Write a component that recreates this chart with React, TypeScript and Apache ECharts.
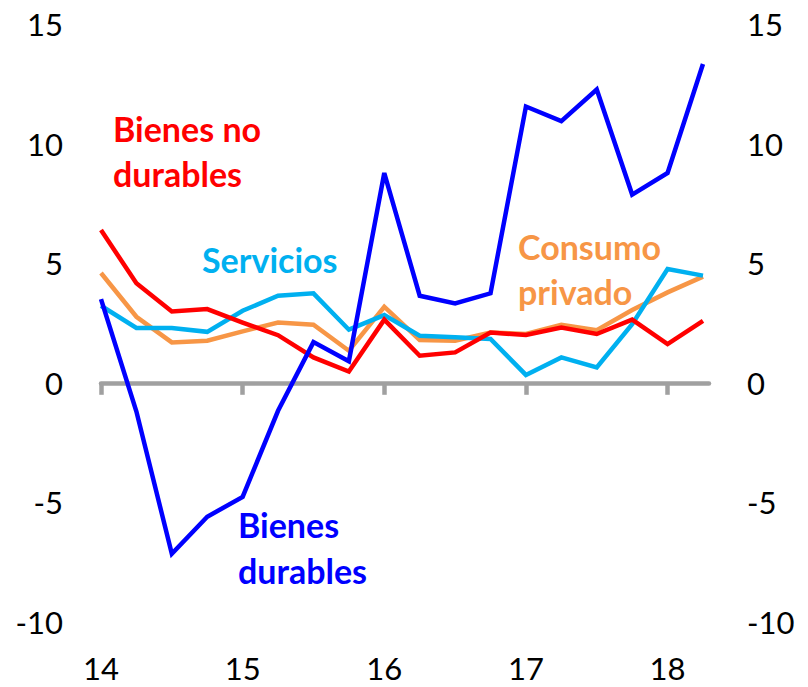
import React, { useEffect, useRef } from "react";
import * as echarts from "echarts";

const quarters = ["14T1","14T2","14T3","14T4","15T1","15T2","15T3","15T4","16T1","16T2","16T3","16T4","17T1","17T2","17T3","17T4","18T1","18T2"];
const yearLabels = ["14", "15", "16", "17", "18"];
const yearTickIdx = [0, 4, 8, 12, 16];

const bienesDurables = [3.5, -1.2, -7.15, -5.6, -4.77, -1.17, 1.7, 0.9, 8.77, 3.64, 3.32, 3.74, 11.55, 10.94, 12.26, 7.87, 8.77, 13.33];
const bienesNoDurables = [6.39, 4.16, 2.98, 3.08, 2.52, 1.99, 1.06, 0.47, 2.64, 1.13, 1.27, 2.1, 2.0, 2.31, 2.04, 2.64, 1.62, 2.59];
const servicios = [3.22, 2.29, 2.29, 2.13, 3.01, 3.64, 3.74, 2.22, 2.83, 1.97, 1.9, 1.83, 0.33, 1.06, 0.64, 2.45, 4.76, 4.48];
const consumoPrivado = [4.59, 2.76, 1.69, 1.76, 2.15, 2.52, 2.43, 1.34, 3.18, 1.79, 1.76, 2.1, 2.04, 2.43, 2.2, 3.04, 3.78, 4.44];

const FONT = "Lato";

export default function App() {
  const ref = useRef<HTMLDivElement>(null);
  useEffect(() => {
    if (!ref.current) return;
    const chart = echarts.init(ref.current, null, { renderer: "svg" });
    const toPairs = (arr: number[]) => arr.map((v, i) => [i, v]);
    const mk = (name: string, data: number[], color: string, z: number) => ({
      name,
      type: "line",
      data: toPairs(data),
      xAxisIndex: 0,
      yAxisIndex: 0,
      showSymbol: false,
      symbol: "none",
      z,
      lineStyle: { color, width: 4.5, join: "miter" },
    });
    const xMax = quarters.length - 1 + 0.17;
    const yAxisBase = {
      type: "value",
      min: -10,
      max: 15,
      interval: 5,
      axisLine: { show: false },
      axisTick: { show: false },
      splitLine: { show: false },
      axisLabel: { color: "#000", fontSize: 31, fontFamily: FONT, margin: 38 },
    };
    const boldText = (text: string, x: number, y: number, fill: string) => ({
      type: "text",
      x,
      y,
      style: {
        text,
        fill,
        font: `bold 34px ${FONT}`,
        textAlign: "left",
        textVerticalAlign: "middle",
      },
    });
    chart.setOption({
      animation: false,
      grid: { left: 101, right: 99, top: 24, bottom: 65 },
      xAxis: [
        {
          type: "value",
          min: 0,
          max: xMax,
          axisLine: { show: true, onZero: true, lineStyle: { color: "#a0a0a0", width: 4.5 } },
          axisTick: {
            show: true,
            length: 12,
            customValues: yearTickIdx,
            lineStyle: { color: "#a0a0a0", width: 4.5 },
          },
          axisLabel: { show: false },
          splitLine: { show: false },
        },
        {
          type: "value",
          min: 0,
          max: xMax,
          position: "bottom",
          axisLine: { show: false, onZero: false },
          axisTick: { show: false },
          splitLine: { show: false },
          axisLabel: {
            show: true,
            customValues: yearTickIdx,
            formatter: (v: number) => {
              const k = yearTickIdx.indexOf(Math.round(v));
              return k >= 0 ? yearLabels[k] : "";
            },
            color: "#000",
            fontSize: 31,
            fontFamily: FONT,
            margin: 30,
          },
        },
      ],
      yAxis: [
        { ...yAxisBase, position: "left" },
        { ...yAxisBase, position: "right" },
      ],
      series: [
        mk("Consumo privado", consumoPrivado, "#F79646", 2),
        mk("Servicios", servicios, "#00B0F0", 3),
        mk("Bienes no durables", bienesNoDurables, "#FF0000", 4),
        mk("Bienes durables", bienesDurables, "#0000FF", 5),
      ],
      graphic: [
        boldText("Bienes no", 113, 128, "#FF0000"),
        boldText("durables", 113, 173, "#FF0000"),
        boldText("Servicios", 202, 259, "#00B0F0"),
        boldText("Consumo", 518, 246, "#F79646"),
        boldText("privado", 518, 291, "#F79646"),
        boldText("Bienes", 238, 524, "#0000FF"),
        boldText("durables", 238, 570, "#0000FF"),
      ],
    });
    return () => chart.dispose();
  }, []);
  return (
    <div
      ref={ref}
      style={{ position: "fixed", left: 0, top: 0, width: 808, height: 687, background: "#fff" }}
    />
  );
}
